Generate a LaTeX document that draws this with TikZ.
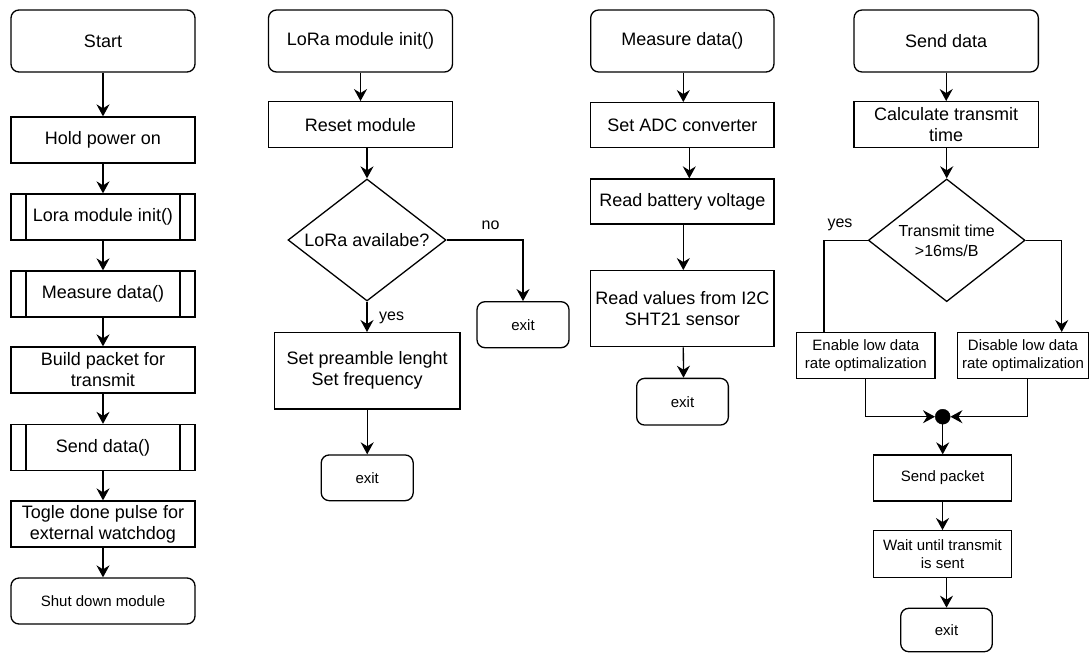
\documentclass[tikz,border=0pt]{standalone}
\usepackage{fontspec}
\setmainfont{Liberation Sans}
\usetikzlibrary{shapes.geometric,arrows.meta}
\begin{document}
\begin{tikzpicture}[x=1pt,y=-1pt,
  box/.style={draw, line width=1.3pt, rectangle, align=center, inner sep=0pt, font=\fontsize{18}{21}\selectfont},
  sm/.style={font=\fontsize{15}{18}\selectfont},
  term/.style={box, rounded corners=8pt},
  sub/.style={box, path picture={
    \draw[line width=1.3pt] ([xshift=15pt]path picture bounding box.north west) -- ([xshift=15pt]path picture bounding box.south west)
      ([xshift=-15pt]path picture bounding box.north east) -- ([xshift=-15pt]path picture bounding box.south east);}},
  dec/.style={draw, line width=1.3pt, diamond, aspect=1.3, align=center, inner sep=0pt},
  arr/.style={line width=1.3pt, -{Stealth[length=12pt,width=13pt,inset=4pt]}},
  ln/.style={line width=1.3pt},
  lbl/.style={font=\fontsize{16}{19}\selectfont, inner sep=0pt}
]
\useasboundingbox (0,0) rectangle (1091,653);

% ---------- column 1 ----------
\node[term, minimum width=184pt, minimum height=62pt] (start) at (103,41) {Start};
\node[box, minimum width=184pt, minimum height=46pt] (hold) at (103,140) {Hold power on};
\node[sub, minimum width=184pt, minimum height=46pt] (lora) at (103,217) {Lora module init()};
\node[sub, minimum width=184pt, minimum height=46pt] (meas) at (103,294) {Measure data()};
\node[box, minimum width=184pt, minimum height=46pt] (build) at (103,370) {Build packet for\\transmit};
\node[sub, minimum width=184pt, minimum height=46pt] (send) at (103,447.5) {Send data()};
\node[box, minimum width=184pt, minimum height=46pt] (togle) at (103,524) {Togle done pulse for\\external watchdog};
\node[term, sm, minimum width=184pt, minimum height=46pt] (shut) at (103,601) {Shut down module};

\draw[arr] (start) -- (hold);
\draw[arr] (hold) -- (lora);
\draw[arr] (lora) -- (meas);
\draw[arr] (meas) -- (build);
\draw[arr] (build) -- (send);
\draw[arr] (send) -- (togle);
\draw[arr] (togle) -- (shut);

% ---------- column 2 ----------
\node[term, minimum width=184pt, minimum height=62pt] (linit) at (360.5,41) {LoRa module init()};
\node[box, minimum width=184pt, minimum height=46pt] (reset) at (360.5,124.7) {Reset module};
\node[dec, minimum width=158pt, minimum height=122pt, font=\fontsize{18}{21}\selectfont] (avail) at (367,240) {LoRa availabe?};
\node[term, sm, minimum width=92pt, minimum height=46pt] (exitA) at (523,324.7) {exit};
\node[box, minimum width=185.7pt, minimum height=76.3pt] (pre) at (367.2,370.8) {Set preamble lenght\\Set frequency};
\node[term, sm, minimum width=92pt, minimum height=45.7pt] (exitB) at (367.2,477.8) {exit};
\node[lbl] (no) at (490.5,225) {no};
\node[lbl, anchor=west] (yesA) at (379,318) {yes};

\draw[arr] (linit.south) -- (reset.south |- linit.south) -- (reset.north);
\draw[arr] (reset.south -| avail.north) -- (avail.north);
\draw[arr] (avail.east) -| (exitA.north);
\draw[arr] (avail.south) -- (pre.north -| avail.south);
\draw[arr] (pre) -- (exitB);

% ---------- column 3 ----------
\node[term, minimum width=183.3pt, minimum height=62pt] (mdata) at (682.3,41) {Measure data()};
\node[box, minimum width=183.3pt, minimum height=45pt] (adc) at (682.3,125.2) {Set ADC converter};
\node[box, minimum width=183.3pt, minimum height=45pt] (batt) at (682.3,201.5) {Read battery voltage};
\node[box, minimum width=183.3pt, minimum height=76pt] (vals) at (682.3,308.7) {Read values from I2C\\SHT21 sensor};
\node[term, sm, minimum width=91.7pt, minimum height=46.7pt] (exitC) at (682.5,401.7) {exit};

\draw[arr] ([xshift=1pt]mdata.south) -- ([xshift=1pt]adc.north);
\draw[arr] ([xshift=7pt]adc.south) -- ([xshift=7pt]batt.north);
\draw[arr] ([xshift=1pt]batt.south) -- ([xshift=1pt]vals.north);
\draw[arr] ([xshift=1pt]vals.south) -- ([xshift=1pt]exitC.north);

% ---------- column 4 ----------
\node[term, minimum width=184.3pt, minimum height=62pt] (sdata) at (946.2,41) {Send data};
\node[box, minimum width=184.3pt, minimum height=46pt] (calc) at (946.2,124.7) {Calculate transmit\\time};
\node[dec, minimum width=156.7pt, minimum height=122.7pt, font=\fontsize{16}{20}\selectfont] (tt) at (946.7,240.3) {Transmit time\\>16ms/B};
\node[lbl] (yesB) at (840,225) {yes};
\node[box, sm, minimum width=138.3pt, minimum height=45.7pt] (enable) at (865.8,355.5) {Enable low data\\rate optimalization};
\node[box, sm, minimum width=130.6pt, minimum height=45.7pt] (disable) at (1023,355.5) {Disable low data\\rate optimalization};
\node[circle, fill=black, draw=black, minimum size=15pt, inner sep=0pt] (dot) at (942.7,416.7) {};
\node[box, sm, minimum width=138.4pt, minimum height=46pt] (spack) at (942.5,478) {Send packet};
\node[box, sm, minimum width=138.4pt, minimum height=46.6pt] (wait) at (942.5,554) {Wait until transmit\\is sent};
\node[term, sm, minimum width=91.6pt, minimum height=43.4pt] (exitD) at (946.5,630) {exit};

\draw[arr] (sdata) -- (calc.north -| sdata.south);
\draw[arr] (calc.south -| tt.north) -- (tt.north);
\draw[ln] (tt.west) -| ([xshift=-41.8pt]enable.north);
\draw[arr] (tt.east) -| ([xshift=38.7pt]disable.north);
\draw[arr] (enable.south) |- (dot.west);
\draw[arr] ([xshift=4.3pt]disable.south) |- (dot.east);
\draw[arr] (dot) -- (spack.north -| dot.south);
\draw[arr] (spack) -- (wait);
\draw[arr] ([xshift=4pt]wait.south) -- ([xshift=4pt]wait.south |- exitD.north);
\end{tikzpicture}
\end{document}
